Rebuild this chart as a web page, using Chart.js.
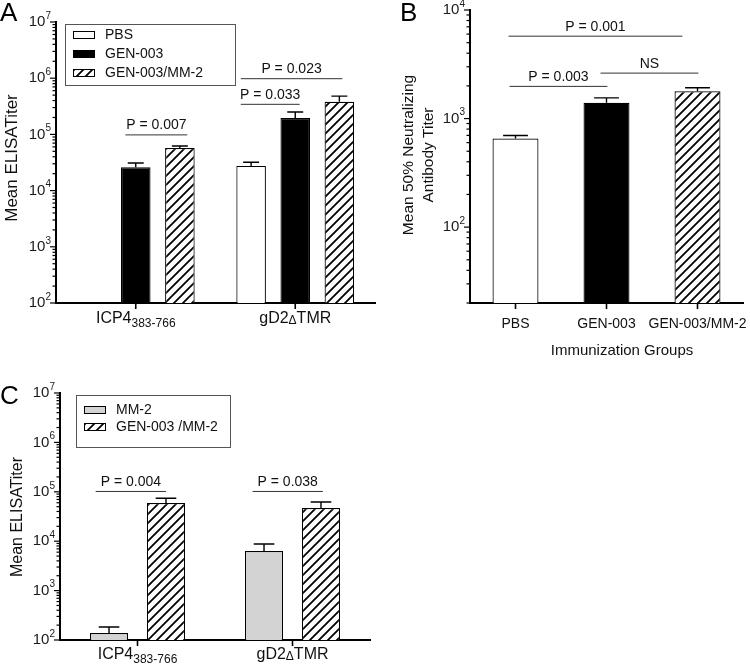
<!DOCTYPE html>
<html>
<head>
<meta charset="utf-8">
<script src="https://cdn.jsdelivr.net/npm/chart.js@4.4.0/dist/chart.umd.min.js"></script>
<style>
  body { margin: 0; background: #fff; width: 750px; height: 665px; position: relative; overflow: hidden; }
  .panel { position: absolute; }
</style>
</head>
<body>
<div class="panel" style="left:0;top:0;width:380px;height:335px"><canvas id="chartA"></canvas></div>
<div class="panel" style="left:380px;top:0;width:370px;height:365px"><canvas id="chartB"></canvas></div>
<div class="panel" style="left:0;top:365px;width:380px;height:300px"><canvas id="chartC"></canvas></div>
<script>
// --- Data ---
const antigens = ['ICP4_383-766', 'gD2ΔTMR'];
const groupsB = ['PBS', 'GEN-003', 'GEN-003/MM-2'];

// Panel A: ELISA titers
const aPBS = [null, 27500];
const aPBSErr = [null, 32000];
const aGEN = [26000, 195000];
const aGENErr = [31000, 250000];
const aMix = [57000, 380000];
const aMixErr = [62000, 480000];

// Panel B: neutralizing titers
const bMean = [656, 1400, 1780];
const bErr = [698, 1550, 1920];

// Panel C: ELISA titers
const cMM2 = [139, 6300];
const cMM2Err = [183, 8800];
const cMix = [59000, 47000];
const cMixErr = [74000, 62000];

const FONT = '"Liberation Sans", Arial, Helvetica, sans-serif';

// diagonal hatch for the GEN-003/MM-2 bars
function hatch() {
  const c = document.createElement('canvas');
  c.width = 9; c.height = 9;
  const g = c.getContext('2d');
  g.fillStyle = '#fff';
  g.fillRect(0, 0, 9, 9);
  g.strokeStyle = '#000';
  g.lineWidth = 1.8;
  g.beginPath();
  g.moveTo(-2, 11); g.lineTo(11, -2);
  g.moveTo(-2, 2); g.lineTo(2, -2);
  g.moveTo(7, 11); g.lineTo(11, 7);
  g.stroke();
  return g.createPattern(c, 'repeat');
}
const HATCH = hatch();

// draw text made of pieces [text, size, dy]
function rich(ctx, parts, x, y, align) {
  let w = 0;
  parts.forEach(p => { ctx.font = p[1] + 'px ' + FONT; w += ctx.measureText(p[0]).width; });
  let cx = align === 'right' ? x - w : align === 'center' ? x - w / 2 : x;
  ctx.textAlign = 'left';
  ctx.textBaseline = 'middle';
  parts.forEach(p => {
    ctx.font = p[1] + 'px ' + FONT;
    ctx.fillText(p[0], cx, y + p[2]);
    cx += ctx.measureText(p[0]).width;
  });
}

function catParts(label, size) {
  if (label.includes('_')) {
    const [a, b] = label.split('_');
    return [[a, size, 0], [b, size - 4, 5]];
  }
  if (label.includes('Δ')) {
    const [a, b] = label.split('Δ');
    return [[a, size, 0], ['Δ', size - 4, 2], [b, size, 0]];
  }
  return [[label, size, 0]];
}

function makeDecor(cfg) {
  return {
    id: 'decor',
    afterDraw(chart) {
      const ctx = chart.ctx;
      const xs = chart.scales.x, ys = chart.scales.y;
      const area = chart.chartArea;
      ctx.save();
      ctx.fillStyle = '#000';
      ctx.strokeStyle = '#000';

      // error bars (upper only)
      chart.data.datasets.forEach((ds, di) => {
        const meta = chart.getDatasetMeta(di);
        meta.data.forEach((bar, i) => {
          if (ds.data[i] == null) return;
          const yt = ys.getPixelForValue(ds.errTop[i]);
          const half = bar.width * 0.27;
          ctx.lineWidth = 1.4;
          ctx.beginPath();
          ctx.moveTo(bar.x, bar.y);
          ctx.lineTo(bar.x, yt);
          ctx.moveTo(bar.x - half, yt);
          ctx.lineTo(bar.x + half, yt);
          ctx.stroke();
        });
      });

      // log y-axis ticks and labels
      const x0 = area.left;
      ctx.lineWidth = 1.2;
      for (let e = Math.floor(Math.log10(ys.min)); e <= Math.ceil(Math.log10(ys.max)); e++) {
        for (let m = 1; m < 10; m++) {
          const v = m * Math.pow(10, e);
          if (v < ys.min * 0.999 || v > ys.max * 1.001) continue;
          const y = ys.getPixelForValue(v);
          const len = m === 1 ? 6 : 3.5;
          ctx.beginPath();
          ctx.moveTo(x0 - len, y);
          ctx.lineTo(x0, y);
          ctx.stroke();
          if (m === 1) {
            ctx.fillStyle = '#1a1a1a';
            rich(ctx, [['10', cfg.tickSize, 0], [String(e), cfg.tickSize - 5, -6]], x0 - 5, y, 'right');
            ctx.fillStyle = '#000';
          }
        }
      }

      // x ticks and category labels
      xs.getLabels().forEach((lab, i) => {
        const x = xs.getPixelForValue(i);
        ctx.lineWidth = 1.6;
        ctx.beginPath();
        ctx.moveTo(x, area.bottom);
        ctx.lineTo(x, area.bottom + 6);
        ctx.stroke();
        ctx.fillStyle = '#111';
        rich(ctx, catParts(lab, cfg.catSize), x, area.bottom + cfg.catDy, 'center');
      });

      // y title
      ctx.save();
      ctx.translate(cfg.yTitle.x, cfg.yTitle.y);
      ctx.rotate(-Math.PI / 2);
      ctx.font = cfg.yTitle.size + 'px ' + FONT;
      ctx.textAlign = 'center';
      ctx.textBaseline = 'middle';
      ctx.fillStyle = '#111';
      cfg.yTitle.lines.forEach((t, k) => ctx.fillText(t, 0, k * cfg.yTitle.lh));
      ctx.restore();

      // x title
      if (cfg.xTitle) {
        ctx.font = cfg.xTitle.size + 'px ' + FONT;
        ctx.textAlign = 'center';
        ctx.textBaseline = 'middle';
        ctx.fillStyle = '#111';
        ctx.fillText(cfg.xTitle.text, cfg.xTitle.x, cfg.xTitle.y);
      }

      // panel letter
      ctx.font = cfg.letter.size + 'px ' + FONT;
      ctx.textAlign = 'left';
      ctx.textBaseline = 'top';
      ctx.fillStyle = '#000';
      ctx.fillText(cfg.letter.text, cfg.letter.x, cfg.letter.y);

      // significance brackets
      ctx.font = '14px ' + FONT;
      cfg.sigs.forEach(s => {
        const b1 = chart.getDatasetMeta(s.from[0]).data[s.from[1]];
        const b2 = chart.getDatasetMeta(s.to[0]).data[s.to[1]];
        const xa = b1.x + (s.from[2] - 0.5) * b1.width;
        const xb = b2.x + (s.to[2] - 0.5) * b2.width;
        const y = ys.getPixelForValue(s.at);
        ctx.strokeStyle = '#333';
        ctx.lineWidth = 1;
        ctx.beginPath();
        ctx.moveTo(xa, y + 0.5);
        ctx.lineTo(xb, y + 0.5);
        ctx.stroke();
        ctx.fillStyle = '#111';
        ctx.textAlign = 'center';
        ctx.textBaseline = 'alphabetic';
        ctx.fillText(s.text, (xa + xb) / 2, y - 5);
      });

      // legend box
      if (cfg.legend) {
        const L = cfg.legend;
        ctx.strokeStyle = '#555';
        ctx.lineWidth = 1;
        ctx.strokeRect(L.x + 0.5, L.y + 0.5, L.w, L.h);
        chart.data.datasets.forEach((ds, di) => {
          const cy = L.y + L.first + di * L.step;
          ctx.fillStyle = ds.backgroundColor;
          ctx.fillRect(L.x + 8, cy - 3, 21, 6);
          ctx.strokeStyle = '#000';
          ctx.lineWidth = 1;
          ctx.strokeRect(L.x + 8.5, cy - 3.5, 21, 7);
          ctx.fillStyle = '#111';
          ctx.font = '14px ' + FONT;
          ctx.textAlign = 'left';
          ctx.textBaseline = 'middle';
          ctx.fillText(ds.label, L.x + 40, cy);
        });
      }
      ctx.restore();
    }
  };
}

function baseOptions(yMin, yMax, yWidth, xHeight, pad) {
  return {
    responsive: true,
    maintainAspectRatio: false,
    animation: false,
    layout: { padding: pad },
    plugins: { legend: { display: false }, tooltip: { enabled: false } },
    scales: {
      x: {
        type: 'category',
        offset: true,
        grid: { display: false },
        border: { display: true, color: '#000', width: 2 },
        ticks: { display: false },
        afterFit(s) { s.height = xHeight; }
      },
      y: {
        type: 'logarithmic',
        min: yMin,
        max: yMax,
        grid: { display: false },
        border: { display: true, color: '#000', width: 2 },
        ticks: { display: false },
        afterFit(s) { s.width = yWidth; }
      }
    }
  };
}

const barStyle = { borderColor: '#000', borderWidth: 1.2, borderSkipped: 'start' };

// --- Panel A ---
new Chart(document.getElementById('chartA'), {
  type: 'bar',
  data: {
    labels: antigens,
    datasets: [
      Object.assign({ label: 'PBS', data: aPBS, errTop: aPBSErr, backgroundColor: '#fff',
        categoryPercentage: 0.83, barPercentage: 0.67 }, barStyle),
      Object.assign({ label: 'GEN-003', data: aGEN, errTop: aGENErr, backgroundColor: '#000',
        categoryPercentage: 0.83, barPercentage: 0.67 }, barStyle),
      Object.assign({ label: 'GEN-003/MM-2', data: aMix, errTop: aMixErr, backgroundColor: HATCH,
        categoryPercentage: 0.83, barPercentage: 0.67 }, barStyle)
    ]
  },
  options: baseOptions(100, 1e7, 56, 32, { left: 0, top: 22, right: 5, bottom: 0 }),
  plugins: [makeDecor({
    tickSize: 15, catSize: 16, catDy: 16,
    yTitle: { x: 12, y: 158, size: 17, lines: ['Mean ELISATiter'], lh: 0 },
    letter: { text: 'A', x: 0, y: 1, size: 26 },
    legend: { x: 65, y: 24, w: 170, h: 61, first: 11, step: 19 },
    sigs: [
      { from: [1, 0, 0.15], to: [2, 0, 0.75], at: 100000, text: 'P = 0.007' },
      { from: [0, 1, 0.15], to: [1, 1, 0.65], at: 350000, text: 'P = 0.033' },
      { from: [0, 1, 0.15], to: [2, 1, 0.6], at: 1000000, text: 'P = 0.023' }
    ]
  })]
});

// --- Panel B ---
new Chart(document.getElementById('chartB'), {
  type: 'bar',
  data: {
    labels: groupsB,
    datasets: [{
      label: 'Titer', data: bMean, errTop: bErr,
      backgroundColor: ['#fff', '#000', HATCH],
      borderColor: '#000', borderWidth: 1.2, borderSkipped: 'start',
      categoryPercentage: 1, barPercentage: 0.505
    }]
  },
  options: baseOptions(20, 1e4, 90, 62, { left: 0, top: 10, right: 7, bottom: 0 }),
  plugins: [makeDecor({
    tickSize: 15, catSize: 14, catDy: 21,
    yTitle: { x: 29, y: 155, size: 15.5, lines: ['Mean 50% Neutralizing', 'Antibody Titer'], lh: 20 },
    xTitle: { text: 'Immunization Groups', x: 242, y: 351, size: 15 },
    letter: { text: 'B', x: 20, y: 1, size: 26 },
    sigs: [
      { from: [0, 0, 0.35], to: [0, 2, 0.17], at: 5800, text: 'P = 0.001' },
      { from: [0, 0, 0.37], to: [0, 1, 0.52], at: 2000, text: 'P = 0.003' },
      { from: [0, 1, 0.37], to: [0, 2, 0.52], at: 2650, text: 'NS' }
    ]
  })]
});

// --- Panel C ---
new Chart(document.getElementById('chartC'), {
  type: 'bar',
  data: {
    labels: antigens,
    datasets: [
      Object.assign({ label: 'MM-2', data: cMM2, errTop: cMM2Err, backgroundColor: '#d3d3d3',
        categoryPercentage: 0.735, barPercentage: 0.67 }, barStyle),
      Object.assign({ label: 'GEN-003 /MM-2', data: cMix, errTop: cMixErr, backgroundColor: HATCH,
        categoryPercentage: 0.735, barPercentage: 0.67 }, barStyle)
    ]
  },
  options: baseOptions(100, 1e7, 60, 25, { left: 0, top: 28, right: 10, bottom: 0 }),
  plugins: [makeDecor({
    tickSize: 15, catSize: 16, catDy: 15,
    yTitle: { x: 18, y: 152, size: 16, lines: ['Mean ELISATiter'], lh: 0 },
    letter: { text: 'C', x: 0, y: 19, size: 26 },
    legend: { x: 76, y: 30, w: 154, h: 52, first: 15, step: 17 },
    sigs: [
      { from: [0, 0, 0.15], to: [1, 0, 0.5], at: 104000, text: 'P = 0.004' },
      { from: [0, 1, 0.2], to: [1, 1, 0.55], at: 104000, text: 'P = 0.038' }
    ]
  })]
});
</script>
</body>
</html>
